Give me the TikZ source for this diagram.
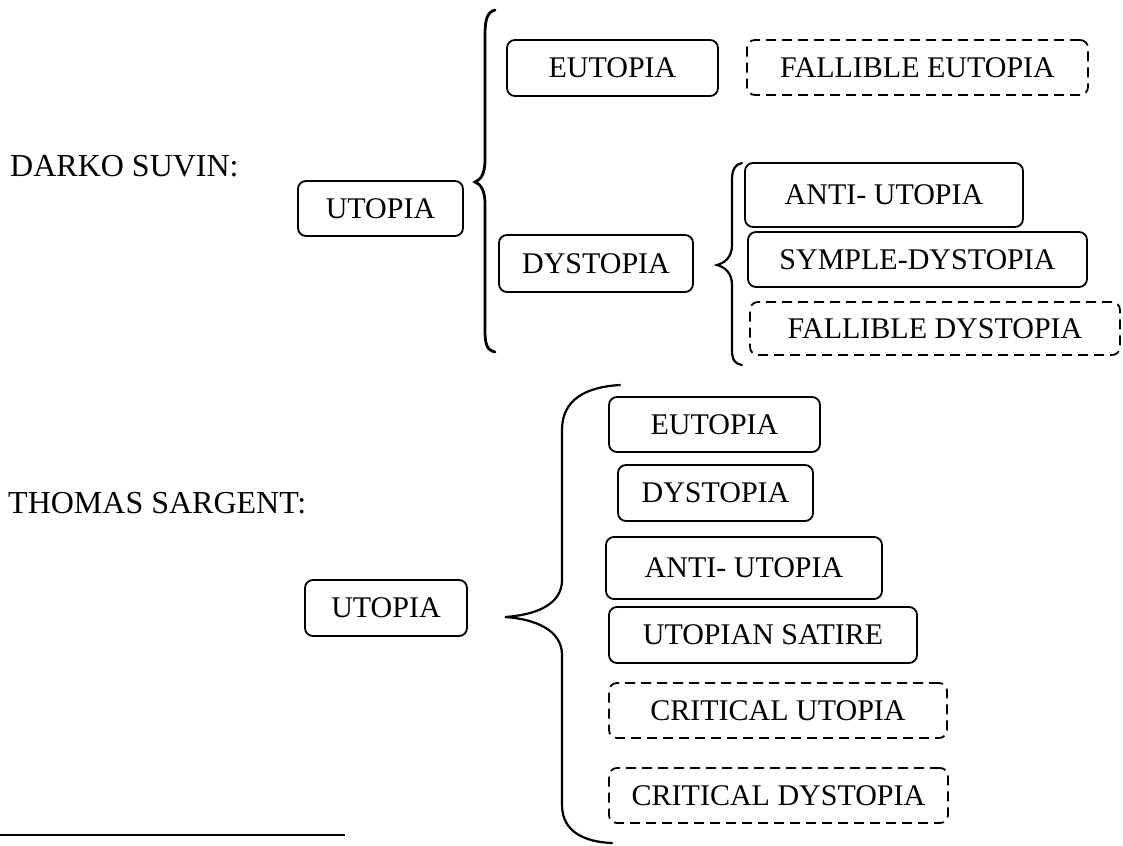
\documentclass[tikz,border=0pt]{standalone}
\usepackage{fontspec}
\setmainfont{Liberation Serif}
\usepackage{tikz}
\usetikzlibrary{arrows.meta}
\usetikzlibrary{calc}

\tikzset{
	kind/.style={draw, rounded corners=8pt, line width=1.8pt, inner sep=0pt,
		font=\fontsize{30}{36}\selectfont},
	fallible/.style={kind, dash pattern=on 10pt off 6pt},
	author/.style={anchor=base west, inner sep=0pt,
		font=\fontsize{32}{38}\selectfont},
	brace/.style={line width=2.2pt, line cap=round}
}

\begin{document}
\begin{tikzpicture}[x=1pt,y=-1pt]
			
			\useasboundingbox (0,0) rectangle (1123,845);
			
			% authors
			\node[author] (suvin)   at (10,176) {DARKO SUVIN:};
			\node[author] (sargent) at (8,513)  {THOMAS SARGENT:};
			
			% Suvin's scheme
			\node[kind, minimum width=165pt, minimum height=55pt] (utopiaA)   at (380.5,208.5) {UTOPIA};
			\node[kind, minimum width=211pt, minimum height=56pt] (eutopiaA)  at (612.5,68)    {EUTOPIA};
			\node[fallible, minimum width=341pt, minimum height=55pt] (falleu) at (917.5,67.5) {FALLIBLE EUTOPIA};
			\node[kind, minimum width=194pt, minimum height=57pt] (dystopiaA) at (596,263.5)   {DYSTOPIA};
			\node[kind, minimum width=278pt, minimum height=64pt] (antiA)     at (884,195)     {ANTI- UTOPIA};
			\node[kind, minimum width=339pt, minimum height=55pt] (symple)    at (917.5,259.5) {SYMPLE-DYSTOPIA};
			\node[fallible, minimum width=370pt, minimum height=53pt] (falldys) at (935,328.5) {FALLIBLE DYSTOPIA};
			
			% braces of Suvin's scheme
			\draw[brace, line width=2.8pt] (495,10) .. controls (487,12) and (485,20) .. (485,35)
				-- (485,160) .. controls (485,175) and (480,180) .. (475,182)
				.. controls (480,184) and (485,189) .. (485,204)
				-- (485,330) .. controls (485,345) and (487,350) .. (495,352);
			\draw[brace] (742,163) .. controls (735,164) and (732,170) .. (732,180)
				-- (732,245) .. controls (732,258) and (724,263) .. (717,265)
				.. controls (724,267) and (732,272) .. (732,285)
				-- (732,350) .. controls (732,360) and (735,364) .. (742,365);
			
			% Sargent's scheme
			\node[kind, minimum width=162pt, minimum height=56pt] (utopiaB)   at (386,608)   {UTOPIA};
			\node[kind, minimum width=211pt, minimum height=55pt] (eutopiaB)  at (714.5,424.5) {EUTOPIA};
			\node[kind, minimum width=195pt, minimum height=56pt] (dystopiaB) at (715.5,493) {DYSTOPIA};
			\node[kind, minimum width=276pt, minimum height=62pt] (antiB)     at (744,568)   {ANTI- UTOPIA};
			\node[kind, minimum width=308pt, minimum height=56pt] (satire)    at (763,635)   {UTOPIAN SATIRE};
			\node[fallible, minimum width=338pt, minimum height=55pt] (critu) at (778,710.5) {CRITICAL UTOPIA};
			\node[fallible, minimum width=339pt, minimum height=55pt] (critd) at (778.5,795.5) {CRITICAL DYSTOPIA};
			
			% brace of Sargent's scheme
			\draw[brace] (620,385) .. controls (585,387) and (562,400) .. (562,430)
				-- (562,580) .. controls (562,605) and (535,615) .. (505,617)
				.. controls (535,619) and (562,630) .. (562,655)
				-- (562,805) .. controls (562,832) and (585,842) .. (612,843);
			
			% footnote rule
			\draw[line width=2pt] (0,835) -- (345,835);
			
		\end{tikzpicture}
\end{document}
